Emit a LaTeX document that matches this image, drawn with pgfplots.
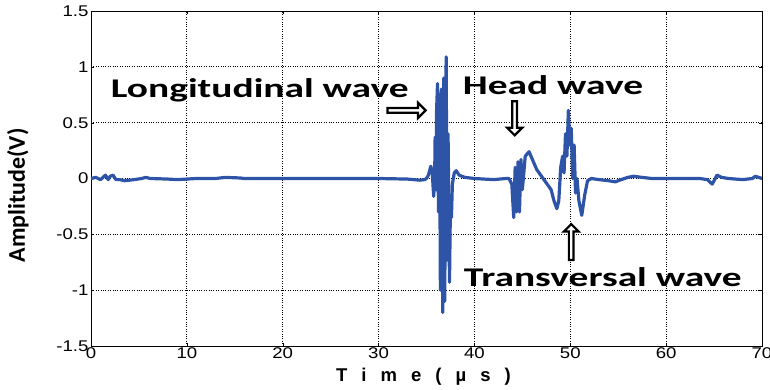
\documentclass[border=0pt]{standalone}
\usepackage{fontspec}
\setmainfont{Liberation Sans}
\newfontfamily\ticksf[FakeStretch=1.2]{Liberation Sans}
\newfontfamily\calib{Carlito}
\newfontfamily\calibw[FakeStretch=1.46]{Carlito}
\usepackage{pgfplots}
\pgfplotsset{compat=1.18}
\usetikzlibrary{shapes.arrows}
\definecolor{wave}{RGB}{46,84,168}
\begin{document}
\begin{tikzpicture}
\begin{axis}[
  at={(0pt,0pt)}, anchor=south west,
  scale only axis,
  width=671pt, height=335pt,
  xmin=0, xmax=70, ymin=-1.5, ymax=1.5,
  xtick={0,10,...,70},
  ytick={-1.5,-1,-0.5,0,0.5,1,1.5},
  yticklabels={-1.5,-1,-0.5,0,0.5,1,1.5},
  grid=major,
  major grid style={black, dotted, line width=0.9pt},
  axis line style={black, line width=0.7pt},
  tick style={black},
  major tick length=3pt,
  tick align=inside,
  /pgf/number format/assume math mode=true,
  ticklabel style={font=\ticksf\fontsize{15.5}{15.5}\selectfont},
  xticklabel style={yshift=2pt},
  yticklabel style={xshift=1pt},
  xlabel={\fontsize{18.5}{18.5}\selectfont\bfseries T\hspace{0.76em}i\hspace{0.76em}m\hspace{0.76em}e\hspace{0.76em}(\hspace{0.76em}µ\hspace{0.76em}s\hspace{0.76em})},
  xlabel style={yshift=-3pt, xshift=-3pt},
  ylabel={\calib\fontsize{24}{24}\selectfont\bfseries Amplitude(V)},
  ylabel style={yshift=21pt, xshift=-17pt},
  clip=true,
]
\addplot[wave, line width=3.2pt, line join=round] coordinates {
(0,0) (0.5,0.01) (1.0,-0.01) (1.5,0.03) (1.8,-0.01) (2.0,0.02) (2.3,0.03) (2.6,-0.01) (3.0,-0.01) (3.5,-0.02) (4.5,-0.01) (5.3,0.0) (5.7,0.01) (6.2,0.0)
(8,-0.005) (9,-0.01) (10,-0.005) (11,0.0) (13,0.0) (14,0.01) (15.5,0.005) (16,0.0) (20,0.0) (25,0.0) (30,0.0) (33,-0.005) (34.3,-0.015) (34.8,-0.01)
(35.0,0.0) (35.2,0.03) (35.45,0.11) (35.6,0.05) (35.75,-0.16) (35.85,0.0) (35.9,0.37) (36.0,-0.1) (36.05,0.6) (36.15,0.85) (36.25,-0.3) (36.35,0.75)
(36.45,-1.0) (36.55,0.8) (36.7,-1.2) (36.8,0.9) (36.9,-1.1) (37.05,1.09) (37.15,-0.73) (37.25,0.4) (37.4,-0.93) (37.5,-0.2) (37.6,-0.35) (37.7,-0.05)
(37.9,0.05) (38.1,0.07) (38.4,0.03) (39,0.01) (40,0.0) (42,-0.01) (43.3,0.0) (43.6,0.0) (43.9,-0.05) (44.1,-0.35) (44.25,0.1) (44.4,-0.3) (44.55,0.15)
(44.7,-0.3) (44.85,0.17) (45.0,-0.1) (45.3,0.2) (45.7,0.24) (46.0,0.18) (46.5,0.08) (47.0,0.02) (47.5,-0.04) (48.0,-0.1) (48.3,-0.2) (48.6,-0.27)
(48.8,-0.2) (49.0,0.1) (49.2,0.2) (49.35,0.05) (49.5,0.4) (49.65,0.2) (49.8,0.61) (49.95,0.3) (50.1,0.45) (50.25,0.0) (50.4,0.3) (50.55,-0.13)
(50.7,0.0) (50.9,-0.2) (51.2,-0.33) (51.5,-0.15) (51.8,-0.02) (52.2,0.0) (53,-0.01) (54,-0.02) (54.7,-0.03) (55.3,-0.01) (56.0,0.01) (56.6,0.02)
(57.5,0.01) (58.5,0.0) (61,0.0) (63.5,0.0) (64.3,-0.01) (64.8,-0.05) (65.0,-0.02) (65.3,0.03) (65.8,0.01) (66.5,0.0) (68,-0.01) (69.0,0.0) (69.3,0.02) (70,0.0)
};
\node[single arrow, draw=black, line width=2.2pt, fill=white, minimum height=38pt, minimum width=15pt,
  single arrow head extend=3.5pt, inner sep=0.5pt] at (axis cs:32.8,0.61) {};
\node[single arrow, draw=black, line width=2.2pt, fill=white, minimum height=34pt, minimum width=15pt,
  single arrow head extend=3.5pt, inner sep=0.5pt, rotate=-90] at (axis cs:44.2,0.55) {};
\node[single arrow, draw=black, line width=2.2pt, fill=white, minimum height=36pt, minimum width=15pt,
  single arrow head extend=3.5pt, inner sep=0.5pt, rotate=90] at (axis cs:50.1,-0.58) {};
\node at (axis cs:17.6,0.79) {\calibw\fontsize{27}{27}\selectfont\bfseries Longitudinal wave};
\node at (axis cs:48.2,0.84) {\calibw\fontsize{27}{27}\selectfont\bfseries Head wave};
\node at (axis cs:53.4,-0.88) {\calibw\fontsize{27}{27}\selectfont\bfseries Transversal wave};
\end{axis}
\pgfresetboundingbox
\path (-91pt,-43pt) rectangle (679pt,346pt);
\end{tikzpicture}
\end{document}
